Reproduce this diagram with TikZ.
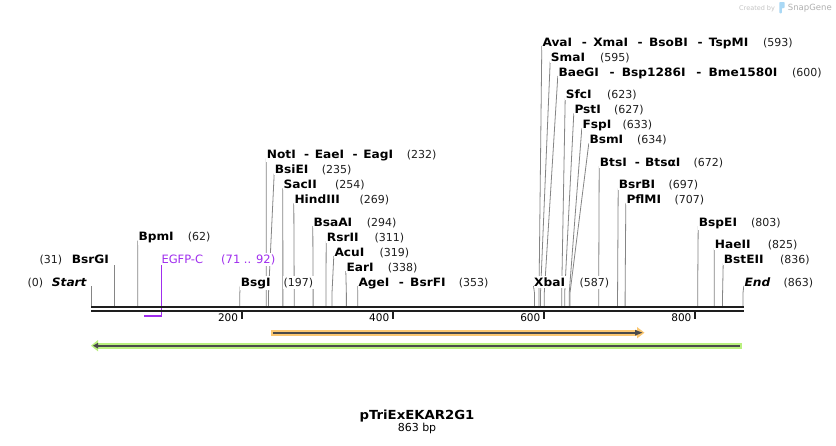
\documentclass[tikz,border=0pt]{standalone}
\usepackage{fontspec}
\setmainfont{DejaVu Sans}[BoldFeatures={FakeStretch=1.06},BoldItalicFeatures={FakeStretch=1.06}]
\usetikzlibrary{backgrounds}
\definecolor{bbcol}{HTML}{1E1E1E}
\definecolor{linecol}{HTML}{858585}
\definecolor{purp}{HTML}{A02EEE}
\definecolor{orgband}{HTML}{FBC771}
\definecolor{grnband}{HTML}{B9F07F}
\definecolor{shaftc}{HTML}{4A4A4A}
\definecolor{wmgray}{HTML}{C4C4C4}
\definecolor{wmgray2}{HTML}{B0B0B0}
\definecolor{logoblue}{HTML}{A9D8F5}
\tikzset{
  enzname/.style={font=\fontsize{11.5}{13}\selectfont\bfseries, fill=white, inner xsep=0.5pt, inner ysep=1.5pt, text=black},
  enznum/.style={font=\fontsize{11}{13}\selectfont, fill=white, inner xsep=0.5pt, inner ysep=1.5pt, text=black!88},
  siteline/.style={draw=linecol, line width=0.8pt},
  backbone/.style={draw=bbcol, line width=2.3pt},
  tickmark/.style={draw=bbcol, line width=2pt},
  ticklab/.style={font=\fontsize{10.5}{12}\selectfont, anchor=base east, inner sep=0pt},
  shaft/.style={draw=shaftc, line width=2.3pt},
}
\newcommand\esep[1]{\hspace{\dimexpr(#1pt-5pt)*6/10\relax}-\hspace{\dimexpr(#1pt-5pt)*4/10\relax}}
\newcommand\enz[7]{%
  \coordinate (s#1) at ({91+0.7555*#2},306);
  \node[enzname,anchor=base west] (n#1) at (#3-0.5,#4) {#5};
  \node[enznum,anchor=base west] (m#1) at (#6-0.5,#4) {#7};
  \begin{pgfonlayer}{background}
    \draw[siteline] (s#1) -- ++(0,-13) -- (n#1.base west);
  \end{pgfonlayer}}
\begin{document}
\begin{tikzpicture}[x=1pt,y=-1pt]
\begin{pgfonlayer}{background}
\fill[white] (0,0) rectangle (836,445);
\end{pgfonlayer}
\useasboundingbox (0,0) rectangle (836,445);

% watermark
\node[anchor=base west, inner sep=0pt, font=\fontsize{6.5}{8}\selectfont, text=wmgray] (wm1) at (739,10.5) {Created by};
\fill[logoblue, rounded corners=0.8pt] (779.3,2) -- (784.6,2) -- (784.6,8) -- (781.9,8) -- (781.9,13.3) -- (779.3,13.3) -- cycle;
\node[anchor=base west, inner sep=0pt, font=\fontsize{8.5}{10}\selectfont, text=wmgray2] (wm2) at (787.7,10.7) {SnapGene};

% EGFP-C feature (behind backbone)
\coordinate (fE) at (161.2,316.8);
\node[enzname, font=\fontsize{11.5}{13}\selectfont, text=purp, anchor=base west] (nEGFP) at (160.8,263.3) {EGFP-C};
\node[enznum, font=\fontsize{11.5}{13}\selectfont, text=purp, anchor=base west] (mEGFP) at (220.5,263.3) {(71 .. 92)};
\draw[purp, line width=1pt] (fE) -- (fE |- nEGFP.south);
\draw[purp, line width=2.3pt] (144,315.7) -- (161.7,315.7);

% backbone
\draw[backbone] (91,307.2) -- (744,307.2);
\draw[backbone] (91,311.2) -- (744,311.2);

% ticks
\foreach \v/\t in {200/t2,400/t4,600/t6,800/t8}{
  \draw[tickmark] ({91+0.7555*\v},311) -- ({91+0.7555*\v},319.3);
  \node[ticklab] (\t) at ({91+0.7555*\v-3.8},321.7) {\v};
}

% left-placed labels
\coordinate (sStart) at (91,306);
\node[enzname, anchor=base west] (nStart) at (51.2,286) {\itshape Start};
\node[enznum, anchor=base west] (mStart) at (26.8,286) {(0)};
\draw[siteline] (sStart) -- (sStart |- nStart.base);
\coordinate (sBsrGI) at ({91+0.7555*31},306);
\node[enzname, anchor=base west] (nBsrGI) at (71.2,263.3) {BsrGI};
\node[enznum, anchor=base west] (mBsrGI) at (38.8,263.3) {(31)};
\draw[siteline] (sBsrGI) -- (sBsrGI |- nBsrGI.south);

% right-placed labels
\enz{BpmI}{62}{138.3}{240.7}{BpmI}{187.7}{(62)}
\enz{BsgI}{197}{240.7}{286}{BsgI}{283.3}{(197)}
\enz{NotI}{232}{266.7}{158.3}{NotI\esep{19}EaeI\esep{19}EagI}{406.7}{(232)}
\enz{BsiEI}{235}{274.7}{173.3}{BsiEI}{321.7}{(235)}
\enz{SacII}{254}{283.3}{188.3}{SacII}{335}{(254)}
\enz{HindIII}{269}{294.3}{203.3}{HindIII}{359.3}{(269)}
\enz{BsaAI}{294}{313.3}{226}{BsaAI}{366.7}{(294)}
\enz{RsrII}{311}{326.7}{241}{RsrII}{374.3}{(311)}
\enz{AcuI}{319}{334.3}{256}{AcuI}{379.3}{(319)}
\enz{EarI}{338}{346.3}{271}{EarI}{387.7}{(338)}
\enz{AgeI}{353}{358.3}{286}{AgeI\esep{20.7}BsrFI}{458.7}{(353)}
\enz{XbaI}{587}{534}{286}{XbaI}{579.3}{(587)}
\enz{AvaI}{593}{542.3}{46}{AvaI\esep{21}XmaI\esep{21}BsoBI\esep{21}TspMI}{763}{(593)}
\enz{SmaI}{595}{550.7}{61}{SmaI}{600}{(595)}
\enz{BaeGI}{600}{558.3}{76}{BaeGI\esep{23}Bsp1286I\esep{23}Bme1580I}{792}{(600)}
\enz{SfcI}{623}{565.7}{98.3}{SfcI}{607}{(623)}
\enz{PstI}{627}{574.3}{113.3}{PstI}{614}{(627)}
\enz{FspI}{633}{582.3}{128.3}{FspI}{622.5}{(633)}
\enz{BsmI}{634}{589.3}{143.3}{BsmI}{637}{(634)}
\enz{BtsI}{672}{599.7}{166}{BtsI\esep{18.3}BtsαI}{693.3}{(672)}
\enz{BsrBI}{697}{618.7}{188.3}{BsrBI}{668.3}{(697)}
\enz{PflMI}{707}{626.3}{203.3}{PflMI}{674.3}{(707)}
\enz{BspEI}{803}{698.7}{226}{BspEI}{751}{(803)}
\enz{HaeII}{825}{714.7}{248.3}{HaeII}{767.7}{(825)}
\enz{BstEII}{836}{723.7}{263.3}{BstEII}{780}{(836)}
\enz{End}{863}{744.3}{286}{\itshape End}{783.3}{(863)}

% orange feature (forward)
\fill[orgband] (271,329.7) rectangle (638.5,335.7);
\fill[orgband] (637,327) -- (644.5,332.7) -- (637,338.4) -- cycle;
\draw[shaft] (273,332.7) -- (636,332.7);
\fill[shaftc] (635,329.8) -- (642.5,332.7) -- (635,335.6) -- cycle;

% green feature (reverse)
\fill[grnband] (97,343) rectangle (741.7,348.5);
\fill[grnband] (98,340) -- (91,345.7) -- (98,351.4) -- cycle;
\draw[shaft] (97,345.7) -- (739.5,345.7);
\fill[shaftc] (98,342.8) -- (93,345.7) -- (98,348.6) -- cycle;

% title
\node[anchor=base, inner sep=0pt, font=\fontsize{12.5}{14}\selectfont\bfseries] (title) at (417,419) {pTriExEKAR2G1};
\node[anchor=base, inner sep=0pt, font=\fontsize{11}{12}\selectfont] (len) at (417,431.5) {863 bp};
\end{tikzpicture}
\end{document}
